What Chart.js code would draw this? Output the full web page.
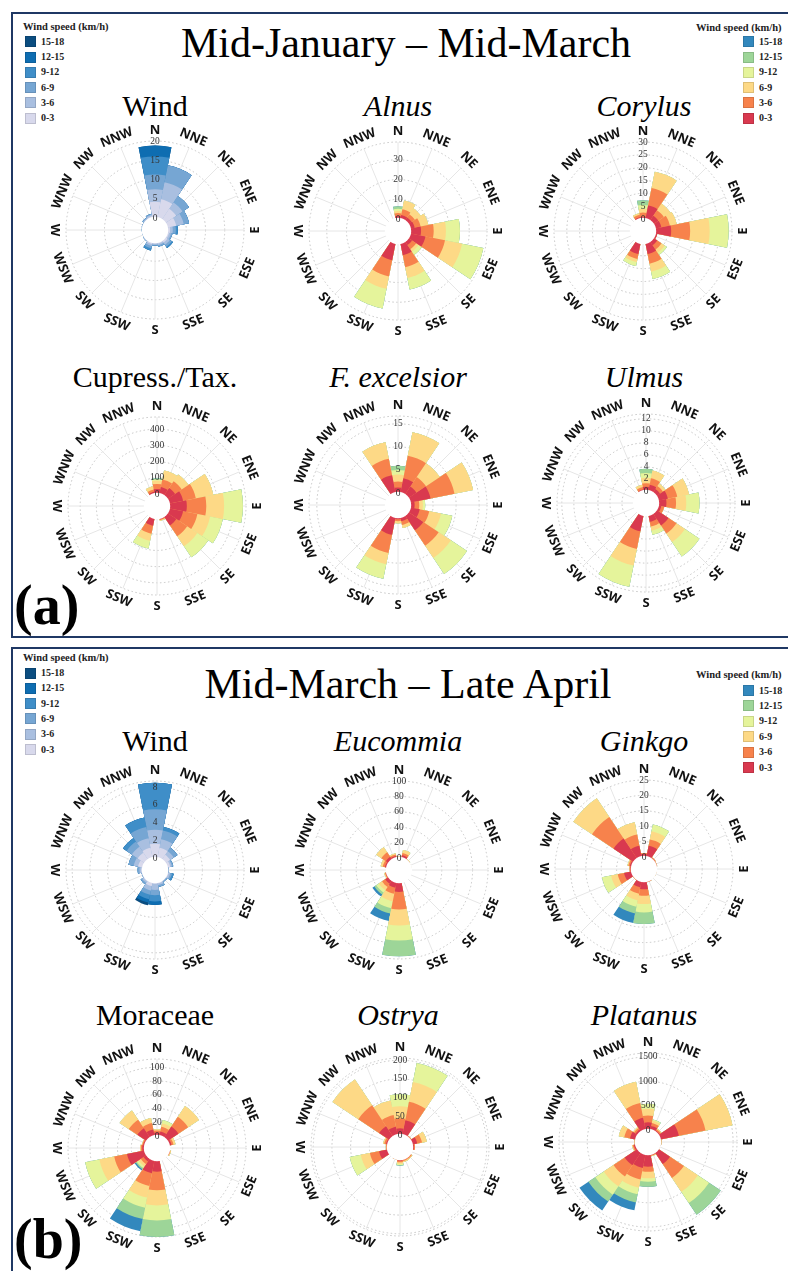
<!DOCTYPE html>
<html><head><meta charset="utf-8">
<script src="https://cdn.jsdelivr.net/npm/chart.js@4.4.0/dist/chart.umd.min.js"></script>
<style>
html,body{margin:0;padding:0;background:#fff;}
body{width:788px;height:1271px;position:relative;overflow:hidden;}
.panel{position:absolute;border:2px solid #1f3864;box-sizing:border-box;}
.t{position:absolute;white-space:nowrap;font-family:'Liberation Serif',serif;color:#000;line-height:0;height:0;transform:translateX(-50%);}
.tl{position:absolute;white-space:nowrap;font-family:'Liberation Serif',serif;color:#000;line-height:0;height:0;}
canvas{position:absolute;}
.sw{position:absolute;width:11px;height:11px;box-sizing:border-box;border:1px solid rgba(0,0,0,0.12);}
</style></head>
<body>
<script>
// ---------------- DATA ----------------
const directions = ['N','NNE','NE','ENE','E','ESE','SE','SSE','S','SSW','SW','WSW','W','WNW','NW','NNW'];
const speedClasses = ['0-3','3-6','6-9','9-12','12-15','15-18'];

// each row: one direction (N, NNE, ... NNW); columns: speed classes 0-3 .. 15-18
const windA = [
 [4.2,3.3,3.8,4.7,2.8,0],[5.0,4.5,4.5,0,0,0],[3.5,2.0,2.0,0,0,0],[2.5,2.0,1.4,0,0,0],
 [0.8,0.7,0.8,0.5,0,0],[0.6,0.5,0.4,0,0,0],[0.8,0.7,0.6,0.4,0,0],[0.5,0.4,0.4,0,0,0],
 [0.4,0.3,0.2,0,0,0],[0.6,0.5,0.6,0.6,0,0],[0.3,0.2,0,0,0,0],[0.2,0.1,0,0,0,0],
 [0.2,0.1,0,0,0,0],[0.2,0.2,0,0,0,0],[0.3,0.3,0.2,0,0,0],[0.5,0.4,0.3,0,0,0]];
const alnus = [
 [1.5,1.5,1.0,1.2,1.3,0],[2.2,3.0,4.5,0,0,0],[2.2,2.0,3.6,0,0,0],[2.5,3.1,4.0,0,0,0],
 [5.6,6.4,6.2,7.1,0,0],[8.1,10.1,8.8,11.0,0,0],[2.5,2.5,1.5,2.0,0,0],[6.4,6.2,5.6,5.9,0,0],
 [0,0,0,0,0,0],[9.0,8.4,6.4,10.1,0,0],[0,0,0,0,0,0],[0,0,0,0,0,0],
 [0,0,0,0,0,0],[0,0,0,0,0,0],[0,0,0,0,0,0],[0,0,0,0,0,0]];
const corylus = [
 [1.0,1.5,1.5,1.5,1.8,0],[5.5,6.9,6.5,0,0,0],[2.5,2.6,3.1,0,0,0],[2.6,3.4,2.7,0,0,0],
 [6.3,7.4,7.6,7.4,0,0],[1.0,0,0,0,0,0],[2.0,2.0,1.5,1.0,0,0],[4.5,3.8,3.2,2.9,0,0],
 [0,0,0,0,0,0],[4.5,1.9,1.3,1.5,0,0],[0,0,0,0,0,0],[0,0,0,0,0,0],
 [0,0,0,0,0,0],[0,0,0,0,0,0],[0,0,0,0,0,0],[0.8,1.0,0.6,0,0,0]];
const cupressTax = [
 [31,31,21,8,6,0],[45,48,56,0,0,0],[60,50,50,0,0,0],[90,80,110,0,0,0],
 [110,120,110,116,0,0],[90,90,80,80,0,0],[70,80,75,82,0,0],[10,5,5,0,0,0],
 [0,0,0,0,0,0],[50,50,45,48,0,0],[0,0,0,0,0,0],[0,0,0,0,0,0],
 [0,0,0,0,0,0],[0,0,0,0,0,0],[0,0,0,0,0,0],[15,15,20,0,0,0]];
const fraxinus = [
 [1.2,1.3,1.5,1.0,0.9,0],[3.3,5.0,5.2,0,0,0],[2.2,2.5,3.6,0,0,0],[4.6,5.3,4.1,0,0,0],
 [1.0,1.0,0.8,0.5,0,0],[2.2,2.1,2.6,2.5,0,0],[4.0,4.0,3.2,4.2,0,0],[1.0,0.8,0.7,0,0,0],
 [0.5,0.4,0.5,0,0,0],[4.0,4.0,2.5,3.2,0,0],[0,0,0,0,0,0],[0,0,0,0,0,0],
 [0,0,0,0,0,0],[0,0,0,0,0,0],[0,0,0,0,0,0],[4.0,3.6,3.7,0,0,0]];
const ulmus = [
 [0.7,0.6,0.9,0.8,0.7,0],[1.1,1.1,1.3,0,0,0],[0.8,0.6,0.5,0,0,0],[1.7,1.6,2.0,0,0,0],
 [1.4,1.6,1.7,2.2,0,0],[0.6,0.5,0,0,0,0],[2.5,1.6,1.7,2.9,0,0],[1.2,0.8,0.7,0.7,0,0],
 [0,0,0,0,0,0],[2.8,3.0,2.8,3.6,0,0],[0,0,0,0,0,0],[0,0,0,0,0,0],
 [0,0,0,0,0,0],[0,0,0,0,0,0],[0,0,0,0,0,0],[0.3,0.4,0.4,0,0,0]];
const windB = [
 [1.6,1.6,2.3,3.0,0,0],[1.2,1.0,1.0,0.4,0,0],[0.7,0.5,0.5,0,0,0],[0.4,0.2,0.15,0,0,0],
 [0.1,0.1,0,0,0,0],[0.2,0.2,0.2,0.2,0,0],[0.1,0.1,0.1,0,0,0],[0.2,0.2,0.2,0,0,0],
 [0.2,0.7,0.6,0.7,0.4,0],[0.5,0.5,0.5,0.5,0.4,0.3],[0.2,0.2,0.2,0,0,0],[0.1,0.1,0,0,0,0],
 [0.2,0.2,0.2,0,0,0],[0.6,0.5,0.6,0,0,0],[1.0,0.8,0.7,0.5,0,0],[1.2,1.1,1.3,1.1,0,0]];
const eucommia = [
 [1,0.5,0.5,0,0,0],[4,3,4,0,0,0],[1,0.5,0.5,0,0,0],[0.5,0.3,0,0,0,0],
 [0.3,0,0,0,0,0],[0.2,0,0,0,0,0],[0,0,0,0,0,0],[0,0,0,0,0,0],
 [13,22.6,20.9,19.5,20.5,0],[8,8,10,9,7,10],[6,5,5,4,3,3],[2,1,1,0,0,0],
 [0.5,0.5,0,0,0,0],[3,3,2.7,0,0,0],[5,7,8,0,0,0],[3,2,1.5,0,0,0]];
const ginkgo = [
 [1.0,0.3,0,0,0,0],[3.8,2.1,2.7,2.2,0,0],[0.4,0.3,0,0,0,0],[0.3,0.2,0,0,0,0],
 [0.2,0,0,0,0,0],[0.2,0.1,0,0,0,0],[0.1,0,0,0,0,0],[0.3,0.2,0,0,0,0],
 [2.7,2.1,2.7,2.7,3.8,0],[2.2,2.1,2.2,2.1,2.2,3.2],[0.3,0.2,0,0,0,0],[2.7,2.1,2.2,3.0,0,0],
 [0.5,0.3,0,0,0,0],[0.8,0.5,0.3,0,0,0],[8.0,8.4,7.3,0,0,0],[3.8,3.7,4.1,0,0,0]];
const moraceae = [
 [5,3,2,0,0,0],[7,7,5,5,0,0],[20,17,19,0,0,0],[4,3,3,0,0,0],
 [1,0.5,0,0,0,0],[1.5,1,1,0,0,0],[0.5,0,0,0,0,0],[0,0,0,0,0,0],
 [17,27,22,22,24,0],[20,19,17,15,17,18],[6,5,4,3,2,2],[27,19,22,21,0,0],
 [4,2,1,0,0,0],[3,1.5,0.5,0,0,0],[17,15,16,0,0,0],[10,9.5,7.5,0,0,0]];
const ostrya = [
 [18,27,32,32,0,0],[41,50,54,52,0,0],[3,2,0,0,0,0],[15,13,13,0,0,0],
 [5,3,0,0,0,0],[0,0,0,0,0,0],[3,3,2,0,0,0],[3,3,3,0,0,0],
 [5,4,4,3,2,0],[2,1,0,0,0,0],[1,0,0,0,0,0],[25,25,25,30,0,0],
 [3,2,1,0,0,0],[6,5,3,0,0,0],[35,67,83,0,0,0],[23,32,40,0,0,0]];
const platanus = [
 [158,138,138,103,0,0],[90,60,50,27,0,0],[40,30,20,0,0,0],[400,557,564,0,0,0],
 [20,10,0,0,0,0],[15,0,0,0,0,0],[296,344,344,276,289,0],[30,15,10,0,0,0],
 [260,105,135,70,104,0],[296,241,172,137,173,165],[330,275,241,207,172,220],[50,25,15,0,0,0],
 [20,10,0,0,0,0],[130,120,115,0,0,0],[60,40,24,0,0,0],[261,310,441,0,0,0]];

// radial tick labels per rose
const ticksWindA = [0,5,10,15,20];
const ticksAlnus = [0,10,20,30];
const ticksCorylus = [0,5,10,15,20,25,30];
const ticksCupress = [0,100,200,300,400];
const ticksFraxinus = [0,5,10,15];
const ticksUlmus = [0,2,4,6,8,10,12];
const ticksWindB = [0,2,4,6,8];
const ticksEucommia = [0,20,40,60,80,100];
const ticksGinkgo = [0,5,10,15,20,25];
const ticksMoraceae = [0,20,40,60,80,100];
const ticksOstrya = [0,50,100,150,200];
const ticksPlatanus = [0,500,1000,1500];

// ---------------- STYLE ----------------
const bluePalette = ['#d8d9ec','#a9bfe0','#76a6d3','#3f8ec8','#0e6db1','#0b4d80'];
const spectralPalette = ['#d9394f','#f7824c','#fdd986','#e5f49b','#9dd598','#3288bd'];
const R_OUT = 89, HOLE = 12, CAN = 240, LABEL_R = 100;

function addText(txt, x, baseline, size, opts = {}) {
  const d = document.createElement('div');
  d.className = opts.left ? 'tl' : 't';
  d.textContent = txt;
  d.style.fontSize = size + 'px';
  d.style.left = x + 'px';
  d.style.top = (baseline - 0.3375 * size) + 'px';
  if (opts.italic) d.style.fontStyle = 'italic';
  if (opts.bold) d.style.fontWeight = 'bold';
  if (opts.color) d.style.color = opts.color;
  document.body.appendChild(d);
}
function addPanel(left, top, w, h) {
  const p = document.createElement('div');
  p.className = 'panel';
  Object.assign(p.style, {left: left + 'px', top: top + 'px', width: w + 'px', height: h + 'px'});
  document.body.appendChild(p);
}
function addLegend(titleX, x, titleY, rowY0, step, palette) {
  addText('Wind speed (km/h)', titleX, titleY + 3.5, 10.5, {left: true, bold: true, color: '#222'});
  for (let i = 0; i < 6; i++) {
    const c = 5 - i;
    const y = rowY0 + i * step;
    const s = document.createElement('div');
    s.className = 'sw';
    Object.assign(s.style, {left: x + 'px', top: (y - 5.5) + 'px', background: palette[c]});
    document.body.appendChild(s);
    addText(speedClasses[c], x + 16, y + 3.5, 10, {left: true, bold: true, color: '#222'});
  }
}

function makePlugin(tickVals) {
  return {
    id: 'rose',
    beforeDatasetsDraw(chart) {
      const s = chart.scales.r, ctx = chart.ctx;
      ctx.save();
      ctx.strokeStyle = '#e6e6e6'; ctx.lineWidth = 1;
      for (let i = 0; i < 16; i++) {
        const a = i * Math.PI / 8;
        ctx.beginPath();
        ctx.moveTo(s.xCenter, s.yCenter);
        ctx.lineTo(s.xCenter + s.drawingArea * Math.sin(a), s.yCenter - s.drawingArea * Math.cos(a));
        ctx.stroke();
      }
      ctx.restore();
    },
    afterDatasetsDraw(chart) {
      const s = chart.scales.r, ctx = chart.ctx;
      const h = s.getDistanceFromCenterForValue(0);
      ctx.save();
      ctx.fillStyle = '#fff';
      ctx.beginPath(); ctx.arc(s.xCenter, s.yCenter, h + 1.2, 0, 2 * Math.PI); ctx.fill();
      ctx.font = '9.5px "Liberation Serif"'; ctx.fillStyle = '#333';
      ctx.textAlign = 'center'; ctx.textBaseline = 'middle';
      tickVals.forEach(v => ctx.fillText(String(v), s.xCenter, s.yCenter - s.getDistanceFromCenterForValue(v)));
      ctx.font = 'bold 13px "Open Sans"'; ctx.fillStyle = '#111';
      directions.forEach((d, i) => {
        const deg = i * 22.5, a = deg * Math.PI / 180;
        const rot = deg < 90 ? deg : (deg <= 270 ? deg - 180 : deg - 360);
        ctx.save();
        ctx.translate(s.xCenter + LABEL_R * Math.sin(a), s.yCenter - LABEL_R * Math.cos(a));
        ctx.rotate(rot * Math.PI / 180);
        ctx.fillText(d, 0, 0);
        ctx.restore();
      });
      ctx.restore();
    }
  };
}

function makeRose(cx, cy, rows, palette, maxVal, tickVals) {
  const cv = document.createElement('canvas');
  cv.width = CAN; cv.height = CAN;
  cv.style.left = (cx - CAN / 2) + 'px';
  cv.style.top = (cy - CAN / 2) + 'px';
  document.body.appendChild(cv);
  const datasets = speedClasses.map((cls, c) => ({
    label: cls,
    data: rows.map(r => r.slice(0, c + 1).reduce((a, b) => a + b, 0)),
    backgroundColor: palette[c],
    borderWidth: 0
  }));
  const gridVals = tickVals.filter(v => v !== 0);
  if (gridVals[gridVals.length - 1] < maxVal) gridVals.push(maxVal);
  new Chart(cv, {
    type: 'polarArea',
    data: {labels: directions, datasets},
    options: {
      responsive: false, animation: false, events: [],
      layout: {padding: (CAN - 2 * R_OUT) / 2},
      plugins: {legend: {display: false}, tooltip: {enabled: false}},
      scales: {r: {
        min: -maxVal * HOLE / (R_OUT - HOLE), max: maxVal,
        startAngle: -11.25,
        ticks: {display: false},
        afterBuildTicks: sc => { sc.ticks = gridVals.map(v => ({value: v})); },
        grid: {display: true, circular: true, color: '#c4c4c4', lineWidth: 1},
        border: {dash: [1.5, 2.5]},
        angleLines: {display: false},
        pointLabels: {display: false}
      }}
    },
    plugins: [makePlugin(tickVals)]
  });
}

// ---------------- LAYOUT ----------------
addPanel(11, 12, 800, 626);
addPanel(11, 647, 800, 700);

addText('Mid-January \u2013 Mid-March', 406, 57, 42);
addText('Mid-March \u2013 Late April', 408, 698, 42);

addLegend(23, 25, 27, 41.7, 15.3, bluePalette);
addLegend(696, 743, 28, 41.7, 15.3, spectralPalette);
addLegend(23, 25, 658, 673, 15.3, bluePalette);
addLegend(696, 743, 675, 690.5, 15.4, spectralPalette);

addText('(a)', 14, 624, 56, {left: true, bold: true});
addText('(b)', 14, 1258, 56, {left: true, bold: true});

const colX = [155, 398, 644];
addText('Wind', colX[0], 116, 30);
addText('Alnus', colX[1], 116, 30, {italic: true});
addText('Corylus', colX[2], 116, 30, {italic: true});
addText('Cupress./Tax.', colX[0], 387, 30);
addText('F. excelsior', colX[1], 387, 30, {italic: true});
addText('Ulmus', colX[2], 387, 30, {italic: true});
addText('Wind', colX[0], 751, 30);
addText('Eucommia', colX[1], 751, 30, {italic: true});
addText('Ginkgo', colX[2], 751, 30, {italic: true});
addText('Moraceae', colX[0], 1025, 30);
addText('Ostrya', colX[1], 1025, 30, {italic: true});
addText('Platanus', colX[2], 1025, 30, {italic: true});

makeRose(155, 230, windA, bluePalette, 20, ticksWindA);
makeRose(398, 231, alnus, spectralPalette, 39, ticksAlnus);
makeRose(643, 231, corylus, spectralPalette, 30, ticksCorylus);
makeRose(157, 506, cupressTax, spectralPalette, 475, ticksCupress);
makeRose(398, 505, fraxinus, spectralPalette, 16.7, ticksFraxinus);
makeRose(646, 503, ulmus, spectralPalette, 12.8, ticksUlmus);
makeRose(155, 870, windB, bluePalette, 8.7, ticksWindB);
makeRose(399, 870, eucommia, spectralPalette, 100, ticksEucommia);
makeRose(644, 869, ginkgo, spectralPalette, 25, ticksGinkgo);
makeRose(157, 1148, moraceae, spectralPalette, 112, ticksMoraceae);
makeRose(400, 1147, ostrya, spectralPalette, 206, ticksOstrya);
makeRose(648, 1142, platanus, spectralPalette, 1580, ticksPlatanus);
</script>
</body></html>
